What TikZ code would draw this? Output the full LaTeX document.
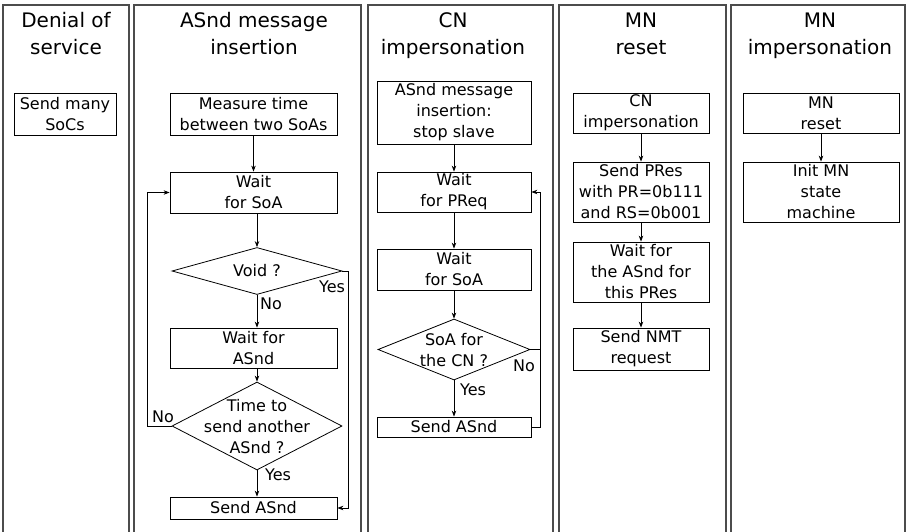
\documentclass[tikz,border=0pt]{standalone}
\usepackage{fontspec}
\setmainfont{DejaVu Sans}
\usetikzlibrary{arrows.meta,shapes.geometric}
\begin{document}
\begin{tikzpicture}[x=1pt,y=-1pt,
 colframe/.style={draw=black!70,line width=1.2pt},
 title/.style={font=\fontsize{20}{27}\selectfont,align=center,anchor=base,inner sep=0pt},
 box/.style={draw,line width=0.8pt,font=\fontsize{16}{21}\selectfont,align=center,inner sep=0pt},
 dia/.style={draw,diamond,line width=0.8pt,inner sep=0pt},
 dtext/.style={font=\fontsize{16}{21}\selectfont,align=center,inner sep=0pt},
 lbl/.style={font=\fontsize{16}{20}\selectfont,inner sep=0pt},
 arr/.style={line width=0.8pt,-{Stealth[length=6pt,width=4.5pt]}},
 ln/.style={line width=0.8pt},
]
\useasboundingbox (0,0) rectangle (907,532);
% column frames
\draw[colframe] (3,540) -- (3,5) -- (129,5) -- (129,540);
\draw[colframe] (134,540) -- (134,5) -- (361,5) -- (361,540);
\draw[colframe] (368,540) -- (368,5) -- (553,5) -- (553,540);
\draw[colframe] (559,540) -- (559,5) -- (726,5) -- (726,540);
\draw[colframe] (731,540) -- (731,5) -- (905,5) -- (905,540);
% titles
\node[title] (t1) at (66,55) {Denial of\\service};
\node[title] (t2) at (254,55) {ASnd message\\insertion};
\node[title] (t3) at (453,55) {CN\\impersonation};
\node[title] (t4) at (641,55) {MN\\reset};
\node[title] (t5) at (820,55) {MN\\impersonation};
% column 1
\node[box,minimum width=102,minimum height=42] (s1) at (65,114) {Send many\\SoCs};
% column 2
\node[box,minimum width=167,minimum height=42] (m) at (253.5,114) {Measure time\\between two SoAs};
\node[box,minimum width=167,minimum height=41] (w1) at (253.5,192.5) {Wait\\for SoA};
\node[dia,minimum width=170,minimum height=47] (v) at (257,271) {};
\node[dtext] (vt) at (257,271) {Void ?};
\node[box,minimum width=167,minimum height=40] (wa) at (253.5,348) {Wait for\\ASnd};
\node[dia,minimum width=170,minimum height=88] (tm) at (257,426) {};
\node[dtext] (tt) at (257,427) {Time to\\send another\\ASnd ?};
\node[box,minimum width=167,minimum height=22] (sa) at (253.5,508) {Send ASnd};
\draw[arr] (m) -- (w1);
\draw[arr] (w1.south -| v.north) -- (v.north);
\draw[arr] (v.south) -- (v.south |- wa.north);
\draw[arr] (wa.south -| tm.north) -- (tm.north);
\draw[arr] (tm.south) -- (tm.south |- sa.north);
\draw[arr] (v.east) -- ++(6,0) |- (sa.east);
\draw[arr] (tm.west) -- ++(-24,0) |- (w1.west);
\node[lbl] (vyes) at (332,287) {Yes};
\node[lbl] (vno) at (271,304) {No};
\node[lbl] (tno) at (163,417) {No};
\node[lbl] (tyes) at (278,475) {Yes};
% column 3
\node[box,minimum width=154,minimum height=63] (c1) at (454,112.5) {ASnd message\\insertion:\\stop slave};
\node[box,minimum width=154,minimum height=40] (c2) at (454,192) {Wait\\for PReq};
\node[box,minimum width=154,minimum height=41] (c3) at (454,269.5) {Wait\\for SoA};
\node[dia,minimum width=152,minimum height=61] (d) at (454,349.5) {};
\node[dtext] (dt) at (454,350) {SoA for\\the CN ?};
\node[box,minimum width=154,minimum height=20] (c4) at (454,427) {Send ASnd};
\draw[arr] (c1) -- (c2);
\draw[arr] (c2) -- (c3);
\draw[arr] (c3) -- (d);
\draw[arr] (d) -- (c4);
\draw[arr] (c4.east) -- ++(9,0) |- (c2.east);
\draw[ln] (d.east) -- ++(10,0);
\node[lbl] (dyes) at (473,390) {Yes};
\node[lbl] (dno) at (524,366) {No};
% column 4
\node[box,minimum width=136,minimum height=40] (b1) at (641,113) {CN\\impersonation};
\node[box,minimum width=136,minimum height=60] (b2) at (641,192) {Send PRes\\with PR=0b111\\and RS=0b001};
\node[box,minimum width=136,minimum height=60] (b3) at (641,272) {Wait for\\the ASnd for\\this PRes};
\node[box,minimum width=136,minimum height=42] (b4) at (641,349) {Send NMT\\request};
\draw[arr] (b1) -- (b2);
\draw[arr] (b2) -- (b3);
\draw[arr] (b3) -- (b4);
% column 5
\node[box,minimum width=156,minimum height=40] (e1) at (821,113) {MN\\reset};
\node[box,minimum width=156,minimum height=60] (e2) at (821,192) {Init MN\\state\\machine};
\draw[arr] (e1) -- (e2);
\end{tikzpicture}
\end{document}
